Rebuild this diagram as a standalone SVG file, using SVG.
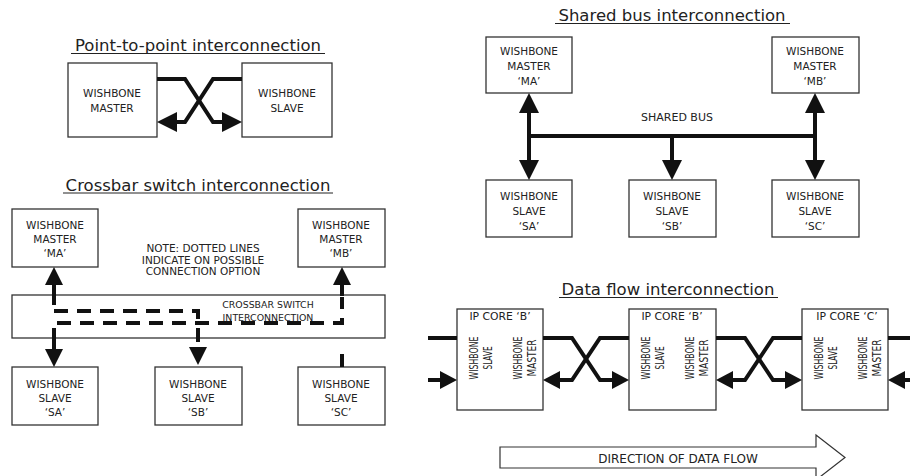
<svg xmlns="http://www.w3.org/2000/svg" width="910" height="476" viewBox="0 0 910 476">
  <defs>
    <style>
      .box { fill: #fff; stroke: #333; stroke-width: 1.3; }
      .t { font-family: "DejaVu Sans", "Liberation Sans", sans-serif; font-size: 10.5px; fill: #222; text-anchor: middle; }
      .v { font-family: "DejaVu Sans", "Liberation Sans", sans-serif; font-size: 12.5px; fill: #222; text-anchor: middle; }
      .title { font-family: "DejaVu Sans", "Liberation Sans", sans-serif; font-size: 16.5px; fill: #222; text-anchor: middle; }
      .ul { stroke: #222; stroke-width: 1; }
      .w { fill: none; stroke: #111; stroke-width: 4; }
      .d { fill: none; stroke: #111; stroke-width: 4; stroke-dasharray: 14 9; }
    </style>
    <marker id="ah20" markerUnits="userSpaceOnUse" viewBox="0 -10 20 20" refX="0" refY="0" markerWidth="20" markerHeight="20" orient="auto">
      <path d="M0,-10 L20,0 L0,10 Z" fill="#111"/>
    </marker>
    <marker id="ah18" markerUnits="userSpaceOnUse" viewBox="0 -9 18 18" refX="0" refY="0" markerWidth="18" markerHeight="18" orient="auto">
      <path d="M0,-9 L18,0 L0,9 Z" fill="#111"/>
    </marker>
    <marker id="ah17" markerUnits="userSpaceOnUse" viewBox="0 -9 17 18" refX="0" refY="0" markerWidth="17" markerHeight="18" orient="auto">
      <path d="M0,-9 L17,0 L0,9 Z" fill="#111"/>
    </marker>
  </defs>

  <rect width="910" height="476" fill="#fff"/>

  <!-- Section titles -->
  <g id="titles">
    <text class="title" x="198" y="51">Point-to-point interconnection</text>
    <line class="ul" x1="71" y1="53.5" x2="325" y2="53.5"/>
    <text class="title" x="198" y="190.5">Crossbar switch interconnection</text>
    <line class="ul" x1="63" y1="193" x2="333" y2="193"/>
    <text class="title" x="672" y="21">Shared bus interconnection</text>
    <line class="ul" x1="555" y1="23.5" x2="790" y2="23.5"/>
    <text class="title" x="668" y="295">Data flow interconnection</text>
    <line class="ul" x1="559" y1="297.5" x2="778" y2="297.5"/>
  </g>

  <!-- Point-to-point -->
  <g id="p2p-master">
    <rect class="box" x="68" y="63" width="89" height="74"/>
    <text class="t" x="112" y="96.5">WISHBONE</text>
    <text class="t" x="112" y="111.5">MASTER</text>
  </g>
  <g id="p2p-slave">
    <rect class="box" x="242" y="63" width="90" height="74"/>
    <text class="t" x="287" y="96.5">WISHBONE</text>
    <text class="t" x="287" y="111.5">SLAVE</text>
  </g>

  <!-- Crossbar switch -->
  <g id="xb-ma">
    <rect class="box" x="12" y="209" width="86" height="58"/>
    <text class="t" x="55" y="229">WISHBONE</text>
    <text class="t" x="55" y="243">MASTER</text>
    <text class="t" x="55" y="257">‘MA’</text>
  </g>
  <g id="xb-mb">
    <rect class="box" x="298" y="209" width="87" height="58"/>
    <text class="t" x="341" y="229">WISHBONE</text>
    <text class="t" x="341" y="243">MASTER</text>
    <text class="t" x="341" y="257">‘MB’</text>
  </g>
  <g id="xb-note">
    <text class="t" x="203" y="252">NOTE: DOTTED LINES</text>
    <text class="t" x="203" y="263.5">INDICATE ON POSSIBLE</text>
    <text class="t" x="203" y="275">CONNECTION OPTION</text>
  </g>
  <g id="xb-switch">
    <rect class="box" x="12" y="295" width="373" height="43"/>
    <text class="t" x="268" y="308" style="font-size:9.4px">CROSSBAR SWITCH</text>
    <text class="t" x="268" y="321" style="font-size:9.4px">INTERCONNECTION</text>
  </g>
  <g id="xb-sa">
    <rect class="box" x="12" y="367" width="86" height="58"/>
    <text class="t" x="55" y="388">WISHBONE</text>
    <text class="t" x="55" y="402">SLAVE</text>
    <text class="t" x="55" y="416">‘SA’</text>
  </g>
  <g id="xb-sb">
    <rect class="box" x="155" y="367" width="87" height="58"/>
    <text class="t" x="198" y="388">WISHBONE</text>
    <text class="t" x="198" y="402">SLAVE</text>
    <text class="t" x="198" y="416">‘SB’</text>
  </g>
  <g id="xb-sc">
    <rect class="box" x="298" y="367" width="87" height="58"/>
    <text class="t" x="341" y="388">WISHBONE</text>
    <text class="t" x="341" y="402">SLAVE</text>
    <text class="t" x="341" y="416">‘SC’</text>
  </g>

  <!-- Shared bus -->
  <g id="sb-ma">
    <rect class="box" x="486" y="37" width="86" height="56"/>
    <text class="t" x="529" y="55">WISHBONE</text>
    <text class="t" x="529" y="70">MASTER</text>
    <text class="t" x="529" y="85">‘MA’</text>
  </g>
  <g id="sb-mb">
    <rect class="box" x="772" y="37" width="87" height="56"/>
    <text class="t" x="815" y="55">WISHBONE</text>
    <text class="t" x="815" y="70">MASTER</text>
    <text class="t" x="815" y="85">‘MB’</text>
  </g>
  <g id="sb-label">
    <text class="t" x="677" y="121" style="font-size:11px">SHARED BUS</text>
  </g>
  <g id="sb-sa">
    <rect class="box" x="486" y="180" width="86" height="57"/>
    <text class="t" x="529" y="200">WISHBONE</text>
    <text class="t" x="529" y="215">SLAVE</text>
    <text class="t" x="529" y="230">‘SA’</text>
  </g>
  <g id="sb-sb">
    <rect class="box" x="629" y="180" width="87" height="57"/>
    <text class="t" x="672" y="200">WISHBONE</text>
    <text class="t" x="672" y="215">SLAVE</text>
    <text class="t" x="672" y="230">‘SB’</text>
  </g>
  <g id="sb-sc">
    <rect class="box" x="772" y="180" width="87" height="57"/>
    <text class="t" x="815" y="200">WISHBONE</text>
    <text class="t" x="815" y="215">SLAVE</text>
    <text class="t" x="815" y="230">‘SC’</text>
  </g>

  <!-- Data flow -->
  <g id="df-core1">
    <rect class="box" x="457" y="309" width="86" height="101"/>
    <text class="t" x="500" y="320" style="font-size:10.8px">IP CORE ‘B’</text>
    <text class="v" transform="translate(478,358) rotate(-90)" textLength="43" lengthAdjust="spacingAndGlyphs">WISHBONE</text>
    <text class="v" transform="translate(492,358) rotate(-90)" textLength="23" lengthAdjust="spacingAndGlyphs">SLAVE</text>
    <text class="v" transform="translate(522,358) rotate(-90)" textLength="43" lengthAdjust="spacingAndGlyphs">WISHBONE</text>
    <text class="v" transform="translate(536,358) rotate(-90)" textLength="37" lengthAdjust="spacingAndGlyphs">MASTER</text>
  </g>
  <g id="df-core2">
    <rect class="box" x="629" y="309" width="87" height="101"/>
    <text class="t" x="672" y="320" style="font-size:10.8px">IP CORE ‘B’</text>
    <text class="v" transform="translate(650,358) rotate(-90)" textLength="43" lengthAdjust="spacingAndGlyphs">WISHBONE</text>
    <text class="v" transform="translate(664,358) rotate(-90)" textLength="23" lengthAdjust="spacingAndGlyphs">SLAVE</text>
    <text class="v" transform="translate(694,358) rotate(-90)" textLength="43" lengthAdjust="spacingAndGlyphs">WISHBONE</text>
    <text class="v" transform="translate(708,358) rotate(-90)" textLength="37" lengthAdjust="spacingAndGlyphs">MASTER</text>
  </g>
  <g id="df-core3">
    <rect class="box" x="802" y="309" width="86" height="101"/>
    <text class="t" x="847" y="320" style="font-size:10.8px">IP CORE ‘C’</text>
    <text class="v" transform="translate(823,358) rotate(-90)" textLength="43" lengthAdjust="spacingAndGlyphs">WISHBONE</text>
    <text class="v" transform="translate(837,358) rotate(-90)" textLength="23" lengthAdjust="spacingAndGlyphs">SLAVE</text>
    <text class="v" transform="translate(867,358) rotate(-90)" textLength="43" lengthAdjust="spacingAndGlyphs">WISHBONE</text>
    <text class="v" transform="translate(881,358) rotate(-90)" textLength="37" lengthAdjust="spacingAndGlyphs">MASTER</text>
  </g>
  <g id="df-direction">
    <polygon points="500,447 816,447 816,435 845,457.5 816,480 816,468 500,468" fill="#fff" stroke="#333" stroke-width="1.2"/>
    <text class="t" x="678" y="463" style="font-size:12px">DIRECTION OF DATA FLOW</text>
  </g>

  <!-- Connectors -->
  <g id="connectors">
    <!-- point-to-point crossing -->
    <path class="w" d="M157,79 H185 L213,122 H222" marker-end="url(#ah20)"/>
    <path class="w" d="M242,79 H213 L185,122 H177" marker-end="url(#ah20)"/>

    <!-- crossbar -->
    <path class="w" d="M54,305 V285" marker-end="url(#ah18)"/>
    <path class="w" d="M342,296 V285" marker-end="url(#ah18)"/>
    <path class="w" d="M54,328 V349" marker-end="url(#ah18)"/>
    <path class="d" d="M54,311 H198 V347" marker-end="url(#ah18)"/>
    <path class="d" d="M57,323 H342 V297"/>
    <path class="w" d="M342,354 V367"/>

    <!-- shared bus -->
    <path class="w" d="M527,136 H817"/>
    <path class="w" d="M529,138 V113" marker-end="url(#ah20)"/>
    <path class="w" d="M815,138 V113" marker-end="url(#ah20)"/>
    <path class="w" d="M529,134 V160" marker-end="url(#ah20)"/>
    <path class="w" d="M672,134 V160" marker-end="url(#ah20)"/>
    <path class="w" d="M815,134 V160" marker-end="url(#ah20)"/>

    <!-- data flow -->
    <path class="w" d="M428,338 H457"/>
    <path class="w" d="M428,380 H440" marker-end="url(#ah17)"/>
    <path class="w" d="M543,338 H572 L600,380 H612" marker-end="url(#ah17)"/>
    <path class="w" d="M629,338 H600 L572,380 H560" marker-end="url(#ah17)"/>
    <path class="w" d="M716,338 H745 L773,380 H785" marker-end="url(#ah17)"/>
    <path class="w" d="M802,338 H773 L745,380 H733" marker-end="url(#ah17)"/>
    <path class="w" d="M888,338 H910"/>
    <path class="w" d="M910,380 H905" marker-end="url(#ah17)"/>
  </g>
</svg>
